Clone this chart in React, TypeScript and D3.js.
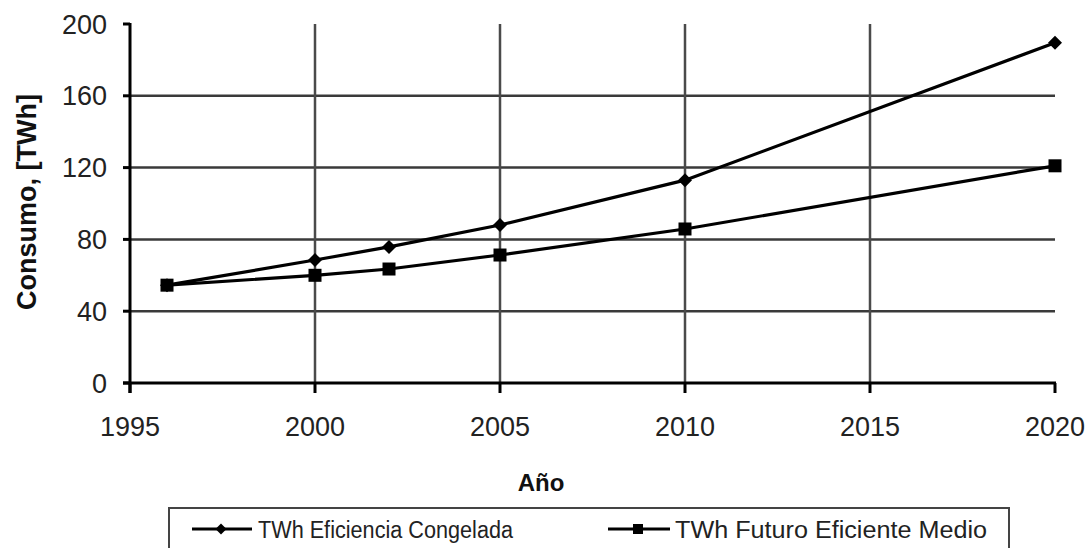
import React from "react";
import * as d3 from "d3";

const years = [1996, 2000, 2002, 2005, 2010, 2020];
const congelada = [54.5, 68.5, 75.8, 88, 113, 189.5];
const eficiente = [54.5, 60, 63.5, 71.3, 85.8, 121];
const xTicks = [1995, 2000, 2005, 2010, 2015, 2020];
const yTicks = [0, 40, 80, 120, 160, 200];
const seriesNames = ["TWh Eficiencia Congelada", "TWh Futuro Eficiente Medio"];

const W = 1089;
const H = 548;
const FONT = "'Liberation Sans', Arial, sans-serif";

export default function App() {
  const x = d3.scaleLinear().domain([1995, 2020]).range([130, 1055]);
  const y = d3.scaleLinear().domain([0, 200]).range([383, 24]);
  const line = d3
    .line<number>()
    .x((_, i) => x(years[i]))
    .y((d) => y(d));

  const diamond = (cx: number, cy: number, r: number) =>
    `M${cx},${cy - r}L${cx + r},${cy}L${cx},${cy + r}L${cx - r},${cy}Z`;

  return (
    <svg
      width={W}
      height={H}
      style={{ position: "absolute", left: 0, top: 0, background: "#fff" }}
      fontFamily={FONT}
    >
      {/* horizontal gridlines */}
      {yTicks
        .filter((t) => t > 0 && t < 200)
        .map((t) => (
          <line key={"h" + t} x1={x(1995)} x2={x(2020)} y1={y(t)} y2={y(t)} stroke="#3a3a3a" strokeWidth={2.5} />
        ))}
      {/* vertical gridlines */}
      {xTicks
        .filter((t) => t > 1995 && t < 2020)
        .map((t) => (
          <line key={"v" + t} x1={x(t)} x2={x(t)} y1={y(200)} y2={y(0)} stroke="#4a4a4a" strokeWidth={2.5} />
        ))}
      {/* axes */}
      <line x1={x(1995)} x2={x(1995)} y1={y(200) - 1} y2={y(0) + 10} stroke="#000" strokeWidth={3} />
      <line x1={x(1995) - 7} x2={x(2020) + 1} y1={y(0)} y2={y(0)} stroke="#000" strokeWidth={3} />
      {yTicks.map((t) => (
        <line key={"yt" + t} x1={x(1995) - 7} x2={x(1995)} y1={y(t)} y2={y(t)} stroke="#000" strokeWidth={3} />
      ))}
      {xTicks.map((t) => (
        <line key={"xt" + t} x1={x(t)} x2={x(t)} y1={y(0)} y2={y(0) + 10} stroke="#000" strokeWidth={3} />
      ))}
      {/* tick labels */}
      {yTicks.map((t) => (
        <text key={"yl" + t} x={107} y={y(t) + 9.5} textAnchor="end" fontSize={27} fill="#222">
          {t}
        </text>
      ))}
      {xTicks.map((t) => (
        <text key={"xl" + t} x={x(t)} y={436} textAnchor="middle" fontSize={27} fill="#222">
          {t}
        </text>
      ))}
      {/* axis titles */}
      <text transform="translate(36,202) rotate(-90)" textAnchor="middle" fontSize={27} fontWeight="bold" fill="#111">
        Consumo, [TWh]
      </text>
      <text x={541} y={491} textAnchor="middle" fontSize={24} fontWeight="bold" fill="#111">
        Año
      </text>
      {/* series */}
      <path d={line(congelada) || ""} fill="none" stroke="#000" strokeWidth={3.2} />
      <path d={line(eficiente) || ""} fill="none" stroke="#000" strokeWidth={3.2} />
      {congelada.map((v, i) => (
        <path key={"d" + i} d={diamond(x(years[i]), y(v), 7)} fill="#000" />
      ))}
      {eficiente.map((v, i) => (
        <rect key={"s" + i} x={x(years[i]) - 6.5} y={y(v) - 6.5} width={13} height={13} fill="#000" />
      ))}
      {/* legend */}
      <rect x={169} y={508} width={840} height={60} fill="#fff" stroke="#444" strokeWidth={2} />
      <line x1={192} x2={252} y1={529} y2={529} stroke="#000" strokeWidth={3} />
      <path d={diamond(221, 529, 5.5)} fill="#000" />
      <text x={258} y={538} fontSize={23} fill="#222" textLength={255} lengthAdjust="spacingAndGlyphs">
        {seriesNames[0]}
      </text>
      <line x1={608} x2={670} y1={529} y2={529} stroke="#000" strokeWidth={3} />
      <rect x={633} y={524} width={10} height={10} fill="#000" />
      <text x={675} y={538} fontSize={23} fill="#222" textLength={312} lengthAdjust="spacingAndGlyphs">
        {seriesNames[1]}
      </text>
    </svg>
  );
}
